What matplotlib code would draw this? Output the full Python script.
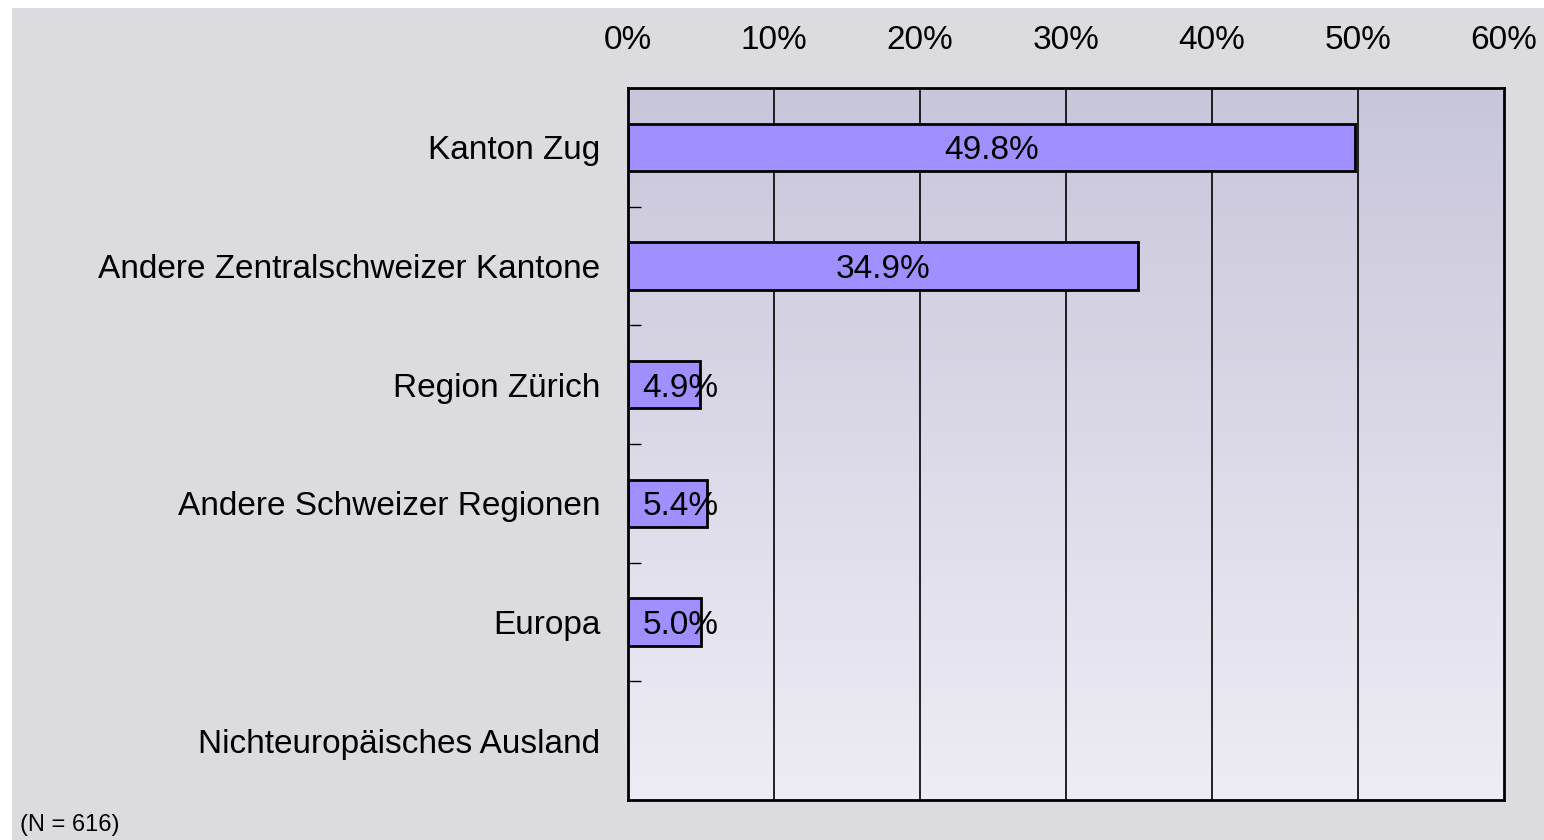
import numpy as np
import matplotlib.pyplot as plt
from matplotlib.patches import Rectangle

plt.rcParams['font.family'] = ['Liberation Sans', 'DejaVu Sans']

categories = ["Kanton Zug", "Andere Zentralschweizer Kantone", "Region Zürich",
              "Andere Schweizer Regionen", "Europa", "Nichteuropäisches Ausland"]
values = [49.8, 34.9, 4.9, 5.4, 5.0, None]
x_ticks = [0, 10, 20, 30, 40, 50, 60]
note = "(N = 616)"

fig = plt.figure(figsize=(15.44, 8.4), dpi=100, facecolor='white')
# gray panel, leaves a thin white strip on top and left
bg = Rectangle((12 / 1544, 0), 1 - 12 / 1544, 1 - 8 / 840,
               transform=fig.transFigure, facecolor='#dcdbe0',
               edgecolor='none', zorder=-5)
fig.add_artist(bg)

ax = fig.add_axes([628 / 1544, 40 / 840, 876 / 1544, 712 / 840])
n = len(categories)
ax.set_xlim(0, 60)
ax.set_ylim(n - 0.5, -0.5)

# vertical gradient background of the plot area
grad = np.linspace(0, 1, 256).reshape(-1, 1)
top = np.array([0xc8, 0xc6, 0xda]) / 255
bot = np.array([0xee, 0xed, 0xf5]) / 255
img = top + (bot - top) * grad[:, :, None]
ax.imshow(img, extent=[0, 60, n - 0.5, -0.5], aspect='auto', zorder=0)

for x in x_ticks[1:-1]:
    ax.axvline(x, color='black', lw=1.2, zorder=1)

ypos = np.arange(n)
for i, v in enumerate(values):
    if v is None:
        continue
    ax.barh(i, v, height=0.4, color='#a090ff', edgecolor='black', lw=2, zorder=2)
    label = f"{v:.1f}%"
    if v < 10:
        ax.text(1.0, i, label, ha='left', va='center_baseline', fontsize=24, zorder=3)
    else:
        ax.text(v / 2, i, label, ha='center', va='center_baseline', fontsize=24, zorder=3)

ax.set_yticks(ypos)
ax.set_yticklabels(categories, fontsize=24)
ax.set_yticks(np.arange(n - 1) + 0.5, minor=True)
ax.tick_params(axis='y', which='major', length=0, pad=20)
ax.tick_params(axis='y', which='minor', direction='in', length=9, width=1)

ax.set_xticks(x_ticks)
ax.set_xticklabels([f"{t}%" for t in x_ticks], fontsize=24)
ax.xaxis.tick_top()
ax.tick_params(axis='x', length=0, pad=23)

for s in ax.spines.values():
    s.set_linewidth(2)
    s.set_zorder(4)

fig.text(20 / 1544, 15 / 840, note, fontsize=17, ha='left', va='center')

fig.savefig('out.png', dpi=100)
